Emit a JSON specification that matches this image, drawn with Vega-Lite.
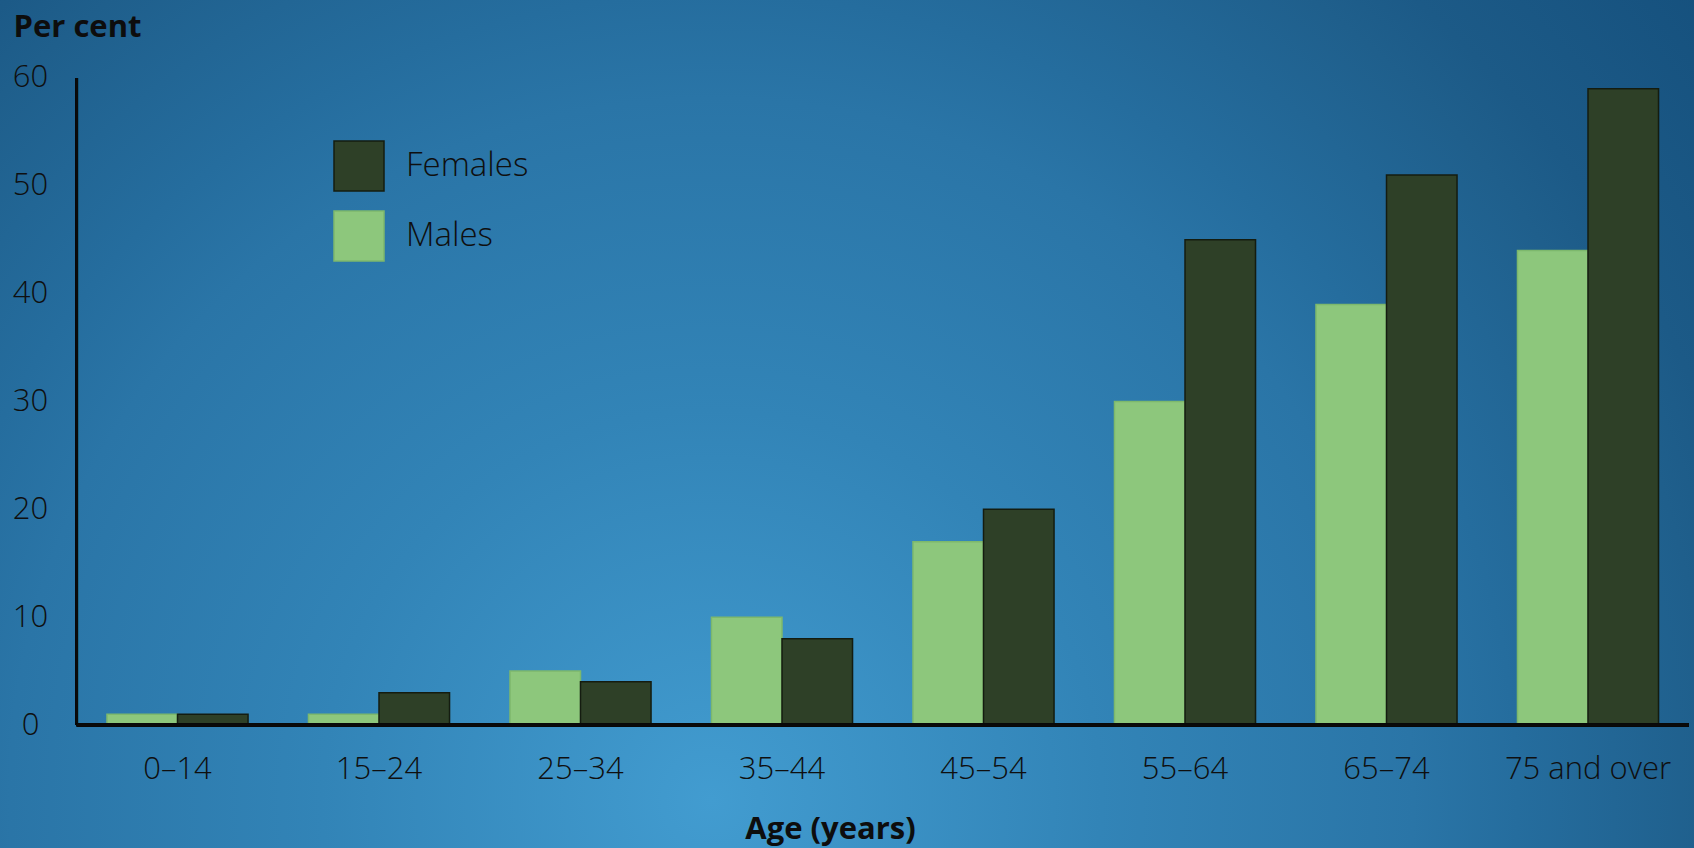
{
  "$schema": "https://vega.github.io/schema/vega-lite/v6.json",
  "width": 1694,
  "height": 848,
  "autosize": {"type": "none"},
  "padding": 0,
  "background": "#1f5f8c",
  "view": {
    "stroke": null,
    "fill": {
      "gradient": "radial",
      "x1": 0.42, "y1": 0.722, "r1": 0,
      "x2": 0.42, "y2": 0.722, "r2": 0.767,
      "stops": [
        {"offset": 0, "color": "#429cd0"},
        {"offset": 0.3, "color": "#3284b7"},
        {"offset": 0.54, "color": "#2a75a7"},
        {"offset": 0.62, "color": "#256d9e"},
        {"offset": 0.77, "color": "#1f5f8c"},
        {"offset": 0.82, "color": "#1c5a87"},
        {"offset": 1, "color": "#15507d"}
      ]
    }
  },
  "config": {
    "font": "Open Sans"
  },
  "data": {
    "values": [
      {"age": "0–14", "sex": "Males", "value": 1},
      {"age": "0–14", "sex": "Females", "value": 1},
      {"age": "15–24", "sex": "Males", "value": 1},
      {"age": "15–24", "sex": "Females", "value": 3},
      {"age": "25–34", "sex": "Males", "value": 5},
      {"age": "25–34", "sex": "Females", "value": 4},
      {"age": "35–44", "sex": "Males", "value": 10},
      {"age": "35–44", "sex": "Females", "value": 8},
      {"age": "45–54", "sex": "Males", "value": 17},
      {"age": "45–54", "sex": "Females", "value": 20},
      {"age": "55–64", "sex": "Males", "value": 30},
      {"age": "55–64", "sex": "Females", "value": 45},
      {"age": "65–74", "sex": "Males", "value": 39},
      {"age": "65–74", "sex": "Females", "value": 51},
      {"age": "75 and over", "sex": "Males", "value": 44},
      {"age": "75 and over", "sex": "Females", "value": 59}
    ]
  },
  "layer": [
    {
      "mark": {"type": "bar", "strokeWidth": 1.5},
      "encoding": {
        "x": {
          "field": "age",
          "type": "nominal",
          "sort": null,
          "scale": {
            "domain": ["0–14", "15–24", "25–34", "35–44", "45–54", "55–64", "65–74", "75 and over"],
            "paddingInner": 0.3,
            "paddingOuter": 0.3535,
            "align": 0.751
          },
          "axis": {
            "orient": "bottom",
            "offset": -123,
            "domain": false,
            "title": "Age (years)",
            "titleFont": "Open Sans",
            "titleFontSize": 31,
            "titleFontWeight": "bold",
            "titleColor": "#0d0d0d",
            "titleX": 830,
            "titleY": 104,
            "titleBaseline": "middle",
            "titleAlign": "center",
            "labelAngle": 0,
            "labelFont": "Open Sans",
            "labelFontSize": 31,
            "labelFontWeight": 300,
            "labelColor": "#0f0f0f",
            "labelBaseline": "middle",
            "labelPadding": 44,
            "ticks": false,
            "tickSize": 0,
            "grid": false
          }
        },
        "xOffset": {"field": "sex", "type": "nominal", "sort": ["Males", "Females"]},
        "y": {
          "field": "value",
          "type": "quantitative",
          "scale": {"domain": [-11.406, 67.233], "nice": false, "zero": false},
          "axis": {
            "orient": "left",
            "offset": -77,
            "domain": false,
            "title": "Per cent",
            "titleFont": "Open Sans",
            "titleFontSize": 31,
            "titleFontWeight": "bold",
            "titleColor": "#0d0d0d",
            "titleAngle": 0,
            "titleAlign": "left",
            "titleBaseline": "middle",
            "titleX": -64,
            "titleY": 27,
            "values": [0, 10, 20, 30, 40, 50, 60],
            "labelFont": "Open Sans",
            "labelFontSize": 31,
            "labelFontWeight": 300,
            "labelColor": "#0f0f0f",
            "labelAlign": "center",
            "labelBaseline": "middle",
            "labelPadding": 47,
            "ticks": false,
            "tickSize": 0,
            "grid": false
          }
        },
        "color": {
          "field": "sex",
          "type": "nominal",
          "scale": {"domain": ["Females", "Males"], "range": ["#2e4027", "#8dc77c"]},
          "legend": {
            "title": null,
            "orient": "none",
            "legendX": 333,
            "legendY": 140,
            "direction": "vertical",
            "padding": 0,
            "symbolType": "square",
            "symbolSize": 2500,
            "symbolStrokeWidth": 1.5,
            "symbolOpacity": 1,
            "labelFont": "Open Sans",
            "labelFontSize": 33,
            "labelFontWeight": 300,
            "labelColor": "#0f0f0f",
            "labelOffset": 21,
            "rowPadding": 14
          }
        },
        "stroke": {
          "field": "sex",
          "type": "nominal",
          "scale": {"domain": ["Females", "Males"], "range": ["#141c10", "#7db86c"]},
          "legend": {
            "title": null,
            "orient": "none",
            "legendX": 333,
            "legendY": 140,
            "direction": "vertical",
            "padding": 0,
            "symbolType": "square",
            "symbolSize": 2500,
            "symbolStrokeWidth": 1.5,
            "labelFont": "Open Sans",
            "labelFontSize": 33,
            "labelFontWeight": 300,
            "labelColor": "#0f0f0f",
            "labelOffset": 21,
            "rowPadding": 14
          }
        }
      }
    },
    {
      "mark": {"type": "rule", "color": "#0a0a0a", "strokeWidth": 2.5},
      "encoding": {
        "x": {"datum": "0–14", "type": "nominal", "bandPosition": -0.2143},
        "y": {"datum": 0, "type": "quantitative"},
        "y2": {"datum": 60}
      }
    },
    {
      "mark": {"type": "rule", "color": "#0a0a0a", "strokeWidth": 2.5},
      "encoding": {
        "x": {"datum": "0–14", "type": "nominal", "bandPosition": -0.2143},
        "x2": {"datum": "75 and over", "bandPosition": 1.2143},
        "y": {"datum": 0, "type": "quantitative"}
      }
    }
  ]
}
